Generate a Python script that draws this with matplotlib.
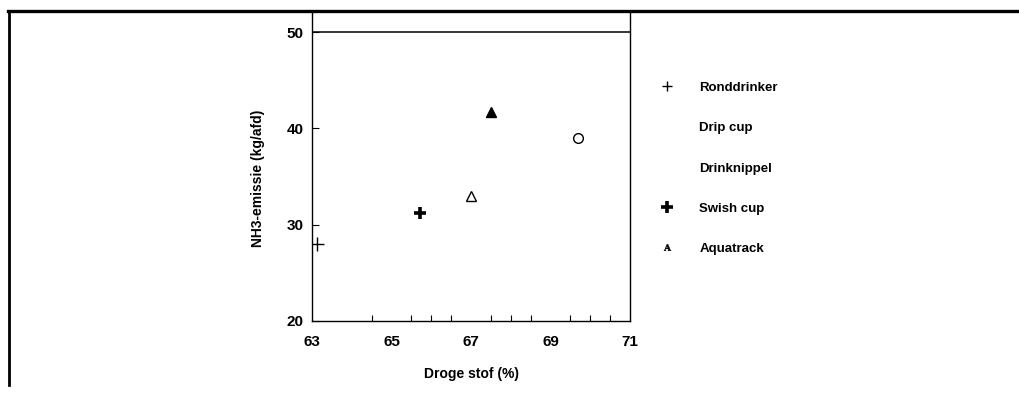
import matplotlib
matplotlib.use("Agg")
import matplotlib.pyplot as plt
from matplotlib.lines import Line2D

plt.rcParams["font.family"] = ["Liberation Sans", "DejaVu Sans"]
plt.rcParams["font.weight"] = "bold"
plt.rcParams["mathtext.fontset"] = "dejavuserif"

# drinking systems: dry matter (%) vs NH3 emission (kg/afd)
labels = ["Ronddrinker", "Drip cup", "Drinknippel", "Swish cup", "Aquatrack"]
droge_stof = [63.13, 69.68, 67.5, 65.72, 67.0]
nh3 = [28.0, 39.0, 41.7, 31.2, 33.0]

x_ticks = [63, 65, 67, 69, 71]
y_ticks = [20, 30, 40, 50]

fig = plt.figure(figsize=(10.2, 3.95), dpi=100)
ax = fig.add_axes([312 / 1020, 1 - 321 / 395, 318 / 1020, 310 / 395])

# plot markers as they appear in the figure
ax.plot(droge_stof[0], nh3[0], marker="+", ms=10, mew=1.0, color="black", ls="none")
ax.plot(droge_stof[1], nh3[1], marker="o", ms=7, mfc="white", mec="black", mew=1.0, ls="none")
ax.plot(droge_stof[2], nh3[2], marker="^", ms=7, color="black", ls="none")
ax.plot(droge_stof[3], nh3[3], marker="+", ms=9, mew=2.6, color="black", ls="none")
ax.plot(droge_stof[4], nh3[4], marker="^", ms=7, mfc="white", mec="black", mew=1.0, ls="none")

ax.axhline(50, color="black", lw=1.1)

ax.set_xlim(63, 71)
ax.set_ylim(20, 52.18)
ax.set_xticks(x_ticks)
ax.set_yticks(y_ticks)
ax.set_xticks([64.5, 65.0, 65.5, 66.0, 66.5, 67.0, 67.5, 68.0, 68.5, 69.0, 69.5, 70.0, 70.5], minor=True)
ax.tick_params(axis="x", which="major", direction="in", length=0, pad=10, labelsize=11)
ax.tick_params(axis="x", which="minor", direction="in", length=4, width=0.8)
ax.tick_params(axis="y", which="major", direction="in", length=5, width=0.8, pad=6, labelsize=11)
for lbl in ax.get_xticklabels() + ax.get_yticklabels():
    lbl.set_fontweight("bold")

ax.spines["top"].set_visible(False)
for s in ["left", "right", "bottom"]:
    ax.spines[s].set_linewidth(1.0)

ax.set_xlabel("Droge stof (%)", fontsize=10, fontweight="bold", labelpad=13)
ax.set_ylabel("NH3-emissie (kg/afd)", fontsize=10, fontweight="bold")
ax.yaxis.set_label_coords(-0.148, 0.46)

# legend as printed (two entries show no symbol)
handles = [
    Line2D([], [], marker="+", ms=7, mew=1.0, color="black", ls="none"),
    Line2D([], [], marker="", ls="none"),
    Line2D([], [], marker="", ls="none"),
    Line2D([], [], marker="+", ms=8, mew=2.6, color="black", ls="none"),
    Line2D([], [], marker=r"$\mathrm{A}$", ms=5, mew=0.3, color="black", ls="none"),
]
leg = fig.legend(handles, labels, loc="upper left", bbox_to_anchor=(649 / 1020, 1 - 70 / 395),
                 frameon=False, fontsize=9.5, handlelength=1.0, handletextpad=1.92,
                 labelspacing=2.12, borderpad=0.4)
for t in leg.get_texts():
    t.set_fontweight("bold")

# page frame lines from the scan
fig.add_artist(Line2D([8 / 1020, 1.0], [1 - 11 / 395] * 2, lw=2.4, color="black",
                      transform=fig.transFigure))
fig.add_artist(Line2D([9 / 1020] * 2, [1 - 11 / 395, 1 - 385 / 395], lw=2.0, color="black",
                      transform=fig.transFigure))

fig.savefig("out.png", dpi=100)
